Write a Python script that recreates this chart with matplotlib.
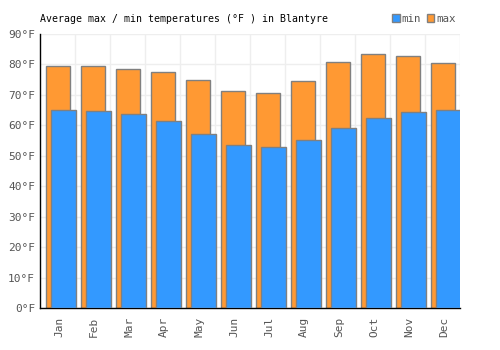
import numpy as np
import matplotlib.pyplot as plt
from matplotlib.patches import Patch

months = ['Jan', 'Feb', 'Mar', 'Apr', 'May', 'Jun', 'Jul', 'Aug', 'Sep', 'Oct', 'Nov', 'Dec']
t_max = [79.5, 79.5, 78.5, 77.5, 74.9, 71.3, 70.6, 74.6, 80.8, 83.4, 82.8, 80.5]
t_min = [65.0, 64.7, 63.7, 61.4, 57.2, 53.5, 52.9, 55.2, 59.1, 62.4, 64.4, 65.0]

plt.rcParams['font.family'] = 'DejaVu Sans Mono'

fig = plt.figure(figsize=(5, 3.5), dpi=100)
ax = fig.add_axes([0.08, 0.12, 0.84, 0.783])

x = np.arange(len(months))
ax.bar(x + 0.015, t_max, width=0.67, color='#ff9933', edgecolor='#808080', linewidth=1, zorder=2)
ax.bar(x + 0.165, t_min, width=0.71, color='#3399ff', edgecolor='#808080', linewidth=1, zorder=3)

ax.set_xlim(-0.5, 11.5)
ax.set_ylim(0, 90)
ax.set_yticks(range(0, 91, 10))
ax.set_yticklabels(['{}°F'.format(v) for v in range(0, 91, 10)])
ax.set_xticks(x + 0.05)
ax.set_xticklabels(months, rotation=90)
ax.set_xticks(x + 0.5, minor=True)
ax.tick_params(axis='both', which='both', length=0, labelsize=8, colors='#555555')
ax.tick_params(axis='x', pad=6)
ax.grid(True, axis='y', color='#eeeeee', linewidth=1, zorder=0)
ax.grid(True, axis='x', which='minor', color='#eeeeee', linewidth=1, zorder=0)
ax.set_axisbelow(True)
for s in ['top', 'right']:
    ax.spines[s].set_visible(False)
for s in ['left', 'bottom']:
    ax.spines[s].set_color('black')
    ax.spines[s].set_linewidth(1)

fig.text(0.08, 0.947, 'Average max / min temperatures (°F ) in Blantyre', fontsize=7.1, va='center', ha='left')
handles = [Patch(facecolor='#3399ff', edgecolor='#808080', label='min'),
           Patch(facecolor='#ff9933', edgecolor='#808080', label='max')]
leg = fig.legend(handles=handles, loc='center right', bbox_to_anchor=(0.912, 0.947), ncol=2, frameon=False,
                 fontsize=7.8, handlelength=0.7, handleheight=0.7, handletextpad=0.2, columnspacing=0.5,
                 borderpad=0, borderaxespad=0)
for t in leg.get_texts():
    t.set_color('#555555')

fig.savefig('out.png', dpi=100)
